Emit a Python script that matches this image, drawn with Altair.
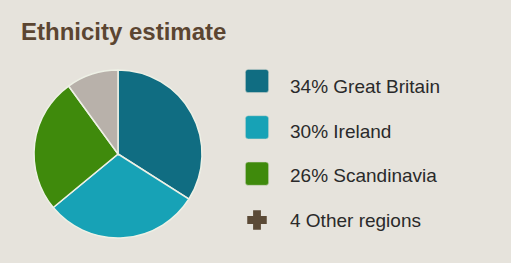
import altair as alt
import pandas as pd

regions = ["Great Britain", "Ireland", "Scandinavia", "Other regions"]
shares = [34, 30, 26, 10]
slice_colors = ["#106d82", "#17a2b6", "#3f8a0c", "#b8b1aa"]
legend_labels = ["34% Great Britain", "30% Ireland", "26% Scandinavia", "4 Other regions"]
legend_colors = ["#106d82", "#17a2b6", "#3f8a0c", "#5b4a36"]
legend_shapes = ["rounded", "rounded", "rounded", "cross"]

BG = "#e6e3dc"
rounded_sq = ("M -0.75 -1 L 0.75 -1 Q 1 -1 1 -0.75 L 1 0.75 Q 1 1 0.75 1 "
              "L -0.75 1 Q -1 1 -1 0.75 L -1 -0.75 Q -1 -1 -0.75 -1 Z")

pie_df = pd.DataFrame({"region": regions, "share": shares, "order": range(len(regions)),
                       "color": slice_colors})
leg_df = pd.DataFrame({"label": legend_labels, "row": range(len(legend_labels)),
                       "color": legend_colors, "shape": legend_shapes})

sym_scale = alt.Scale(type="point", domain=[0, 1, 2, 3], range=[81, 220], padding=0)
txt_scale = alt.Scale(type="point", domain=[0, 1, 2, 3], range=[93, 227], padding=0)

pie = alt.Chart(pie_df).mark_arc(outerRadius=84, stroke="#eef1e6", strokeWidth=1.5).encode(
    theta=alt.Theta("share:Q", stack=True),
    order=alt.Order("order:Q"),
    color=alt.Color("color:N", scale=None),
    x=alt.value(118),
    y=alt.value(154),
)

sq = alt.Chart(leg_df[leg_df["shape"] == "rounded"]).mark_point(
    shape=rounded_sq, size=540, filled=True, opacity=1, strokeWidth=1, stroke="#d9dcd0", strokeOpacity=0.5
).encode(
    x=alt.value(257),
    y=alt.Y("row:O", scale=sym_scale, axis=None),
    fill=alt.Color("color:N", scale=None),
)

plus = alt.Chart(leg_df[leg_df["shape"] == "cross"]).mark_point(
    shape="cross", size=380, filled=True, opacity=1
).encode(
    x=alt.value(257),
    y=alt.Y("row:O", scale=sym_scale, axis=None),
    fill=alt.Color("color:N", scale=None),
)

txt = alt.Chart(leg_df).mark_text(
    align="left", baseline="alphabetic", font="Liberation Sans", fontSize=19, color="#2a2a2a"
).encode(
    x=alt.value(290),
    y=alt.Y("row:O", scale=txt_scale, axis=None),
    text="label:N",
)

title = alt.Chart(pd.DataFrame({"t": ["Ethnicity estimate"]})).mark_text(
    align="left", baseline="alphabetic", font="Liberation Sans", fontSize=24, fontWeight="bold",
    color="#5b4531"
).encode(x=alt.value(21), y=alt.value(40), text="t:N")

chart = alt.layer(pie, sq, plus, txt, title).resolve_scale(y="independent").properties(
    width=511, height=263, background=BG, padding=0, autosize=alt.AutoSizeParams(type="none")
).configure_view(stroke=None)

chart.save("out.html", embed_options={"renderer": "svg", "actions": False})
